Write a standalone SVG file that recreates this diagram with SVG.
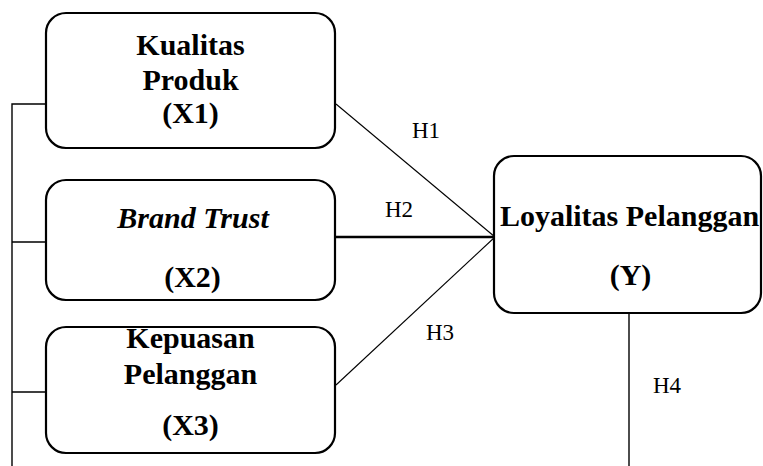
<svg xmlns="http://www.w3.org/2000/svg" width="763" height="466" viewBox="0 0 763 466">
<style>
.box{fill:#fff;stroke:#000;stroke-width:2.2}
.t{font-family:"Liberation Serif","Times New Roman",serif;font-weight:bold;font-size:30px;text-anchor:middle;fill:#000}
.it{font-style:italic}
.h{font-family:"Liberation Serif","Times New Roman",serif;font-size:23px;fill:#000}
.ln{stroke:#000;fill:none}
</style>
<rect width="763" height="466" fill="#fff"/>
<g id="connectors">
<path class="ln" stroke-width="1.4" d="M12 466 V104 H46 M12 242 H46 M12 392 H46"/>
<path class="ln" stroke-width="1.1" d="M336 104 L495 237"/>
<path class="ln" stroke-width="2.6" d="M336 237 H495"/>
<path class="ln" stroke-width="1.1" d="M336 385 L495 237"/>
<path class="ln" stroke-width="1.4" d="M629 313 V466"/>
<text class="h" x="412" y="138">H1</text>
<text class="h" x="385" y="217">H2</text>
<text class="h" x="426" y="340">H3</text>
<text class="h" x="653" y="393">H4</text>
</g>
<g id="x1">
<rect class="box" x="46" y="13" width="289" height="135" rx="20"/>
<text class="t" x="190.5" y="55">Kualitas</text>
<text class="t" x="190.5" y="90">Produk</text>
<text class="t" x="190.5" y="123">(X1)</text>
</g>
<g id="x2">
<rect class="box" x="46" y="180" width="289" height="120" rx="20"/>
<text class="t it" x="193" y="228">Brand Trust</text>
<text class="t" x="192.5" y="287">(X2)</text>
</g>
<g id="x3">
<rect class="box" x="46" y="327" width="289" height="126" rx="20"/>
<text class="t" x="190.5" y="348">Kepuasan</text>
<text class="t" x="190.5" y="384">Pelanggan</text>
<text class="t" x="190.5" y="435">(X3)</text>
</g>
<g id="y">
<rect class="box" x="494" y="156" width="267" height="157" rx="20"/>
<text class="t" x="629.5" y="226">Loyalitas Pelanggan</text>
<text class="t" x="630.5" y="285">(Y)</text>
</g>
</svg>
